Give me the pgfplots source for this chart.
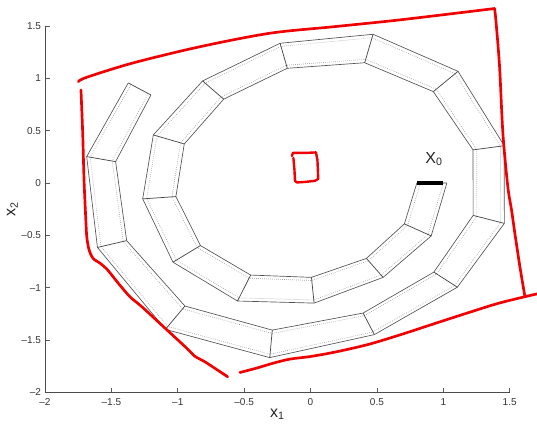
\documentclass[border=0pt]{standalone}
\usepackage{pgfplots}
\pgfplotsset{compat=1.18}
\usepackage{fontspec}
\setmainfont{Liberation Sans}
\definecolor{boxgray}{RGB}{85,85,85}
\definecolor{dotgray}{RGB}{160,160,160}
\definecolor{penred}{RGB}{240,0,0}
\begin{document}
\begin{tikzpicture}
\begin{axis}[
  scale only axis, width=348.5pt, height=274.7pt,
  xmin=-2, xmax=1.5, ymin=-2, ymax=1.5,
  axis lines*=left,
  clip=false,
  xtick={-2,-1.5,-1,-0.5,0,0.5,1,1.5},
  ytick={-2,-1.5,-1,-0.5,0,0.5,1,1.5},
  xticklabels={--2,--1.5,--1,--0.5,0,0.5,1,1.5},
  yticklabels={--2,--1.5,--1,--0.5,0,0.5,1,1.5},
  tick align=inside,
  major tick length=3.5pt,
  tick style={color=black!65, line width=0.5pt},
  axis line style={color=black!70, line width=0.6pt},
  ticklabel style={font=\fontsize{7.5}{9}\selectfont, text=black!80},
  yticklabel style={xshift=0.5pt},
  xticklabel style={yshift=-1.5pt},
  xlabel={x\textsubscript{1}},
  ylabel={x\textsubscript{2}},
  label style={font=\fontsize{12}{14}\selectfont, text=black!85},
  xlabel style={at={(axis description cs:0.5,-0.06)}, anchor=center},
  ylabel style={at={(axis description cs:-0.07,0.5)}, anchor=center},
]
% dotted inner tube lines
\addplot[dotgray, densely dotted, line width=0.5pt] coordinates {
(0.828,0)(0.731,-0.405)(0.436,-0.743)(0.009,-0.932)(-0.463,-0.910)(-0.854,-0.617)(-1.044,-0.133)(-0.979,0.383)(-0.673,0.822)(-0.181,1.125)(0.416,1.182)(0.947,0.896)(1.252,0.321)(1.253,-0.319)(0.950,-0.869)(0.406,-1.268)(-0.290,-1.438)(-0.964,-1.203)(-1.411,-0.559)(-1.494,0.210)(-1.223,0.855)};
\addplot[dotgray, densely dotted, line width=0.5pt] coordinates {
(1.000,0)(0.885,-0.492)(0.532,-0.880)(0.025,-1.118)(-0.538,-1.098)(-1.011,-0.738)(-1.234,-0.149)(-1.156,0.449)(-0.794,0.954)(-0.223,1.306)(0.463,1.388)(1.089,1.044)(1.431,0.351)(1.432,-0.377)(1.085,-0.979)(0.471,-1.424)(-0.305,-1.637)(-1.075,-1.372)(-1.579,-0.608)(-1.660,0.246)(-1.352,0.942)};
% solid box edges
\addplot[boxgray, line width=0.5pt, line join=round] coordinates {
(0.801,0.000)(0.707,-0.391)(0.421,-0.721)(0.007,-0.902)(-0.451,-0.880)(-0.829,-0.598)(-1.014,-0.130)(-0.951,0.373)(-0.654,0.801)(-0.175,1.096)(0.408,1.149)(0.925,0.873)(1.224,0.316)(1.225,-0.310)(0.929,-0.852)(0.396,-1.243)(-0.288,-1.406)(-0.946,-1.176)(-1.385,-0.551)(-1.468,0.204)(-1.202,0.841)};
\addplot[boxgray, line width=0.5pt, line join=round] coordinates {
(1.027,0.000)(0.909,-0.506)(0.547,-0.902)(0.027,-1.148)(-0.550,-1.128)(-1.036,-0.757)(-1.264,-0.152)(-1.184,0.459)(-0.813,0.975)(-0.229,1.335)(0.471,1.421)(1.111,1.067)(1.459,0.356)(1.460,-0.386)(1.106,-0.996)(0.481,-1.449)(-0.307,-1.669)(-1.093,-1.399)(-1.605,-0.616)(-1.686,0.252)(-1.373,0.956)};
\addplot[boxgray!85!black, line width=0.55pt, unbounded coords=jump] coordinates {
(0.801,0)(1.027,0)(nan,nan)
(0.707,-0.391)(0.909,-0.506)(nan,nan)
(0.421,-0.721)(0.547,-0.902)(nan,nan)
(0.007,-0.902)(0.027,-1.148)(nan,nan)
(-0.451,-0.880)(-0.550,-1.128)(nan,nan)
(-0.829,-0.598)(-1.036,-0.757)(nan,nan)
(-1.014,-0.130)(-1.264,-0.152)(nan,nan)
(-0.951,0.373)(-1.184,0.459)(nan,nan)
(-0.654,0.801)(-0.813,0.975)(nan,nan)
(-0.175,1.096)(-0.229,1.335)(nan,nan)
(0.408,1.149)(0.471,1.421)(nan,nan)
(0.925,0.873)(1.111,1.067)(nan,nan)
(1.224,0.316)(1.459,0.356)(nan,nan)
(1.225,-0.310)(1.460,-0.386)(nan,nan)
(0.929,-0.852)(1.106,-0.996)(nan,nan)
(0.396,-1.243)(0.481,-1.449)(nan,nan)
(-0.288,-1.406)(-0.307,-1.669)(nan,nan)
(-0.946,-1.176)(-1.093,-1.399)(nan,nan)
(-1.385,-0.551)(-1.605,-0.616)(nan,nan)
(-1.468,0.204)(-1.686,0.252)(nan,nan)
(-1.202,0.841)(-1.373,0.956)};
% X0 bar
\addplot[black, line width=3.6pt] coordinates {(0.80,0)(1.00,0)};
\node[font=\fontsize{12}{14}\selectfont, text=black!85] at (axis cs:0.93,0.23) {X\textsubscript{0}};
% red hand-drawn curves
\addplot[penred, line width=2pt, line cap=round, line join=round, smooth, tension=0.5] coordinates {
(-1.749,0.968)(-1.686,1.010)(-1.337,1.147)(-0.833,1.302)(-0.306,1.431)(0.181,1.494)(0.683,1.560)(1.386,1.667)};
\addplot[penred, line width=2pt, line cap=round, line join=round, smooth, tension=0.5] coordinates {
(1.386,1.667)(1.396,1.557)(1.424,1.111)(1.449,0.475)(1.486,-0.035)(1.514,-0.257)(1.539,-0.480)(1.577,-0.799)(1.614,-1.079)};
\addplot[penred, line width=2pt, line cap=round, line join=round, smooth, tension=0.5] coordinates {
(-0.532,-1.811)(-0.406,-1.769)(-0.281,-1.722)(-0.155,-1.683)(-0.005,-1.659)(0.181,-1.617)(0.432,-1.544)(0.683,-1.448)(0.929,-1.346)(1.185,-1.241)(1.426,-1.146)(1.705,-1.060)};
\addplot[penred, line width=2pt, line cap=round, line join=round, smooth, tension=0.4] coordinates {
(-1.729,0.889)(-1.716,0.475)(-1.706,0.029)(-1.695,-0.286)(-1.686,-0.506)(-1.672,-0.620)(-1.654,-0.687)(-1.631,-0.730)(-1.586,-0.766)(-1.529,-0.830)(-1.448,-0.958)(-1.360,-1.088)(-1.272,-1.181)(-1.096,-1.387)(-0.946,-1.563)(-0.870,-1.657)(-0.795,-1.709)(-0.624,-1.852)};
\addplot[penred, line width=1.8pt, line cap=round, line join=round] coordinates {
(-0.140,0.258)(-0.133,0.287)(-0.042,0.287)(0.041,0.292)(0.052,0.220)(0.056,0.106)(0.058,0.039)(0.033,0.020)(-0.042,0.010)(-0.102,0.005)(-0.117,0.020)(-0.121,0.125)(-0.129,0.239)};
\end{axis}
\pgfresetboundingbox
\path (current axis.south west) ++(-33.75pt,-25.3pt) rectangle ++(402.75pt,319.5pt);
\end{tikzpicture}
\end{document}
